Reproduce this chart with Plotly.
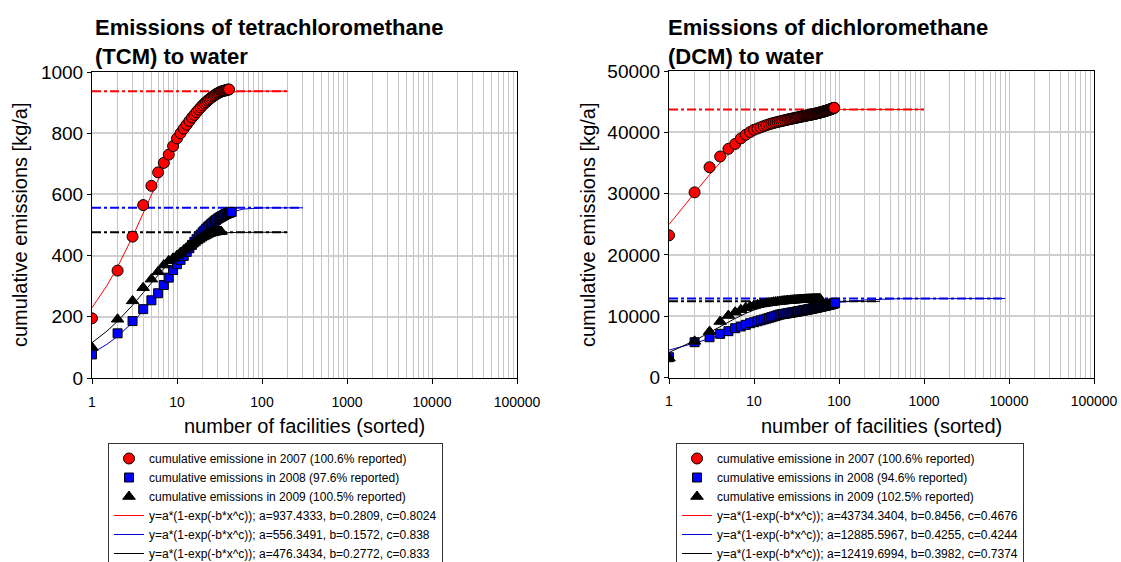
import plotly.graph_objects as go

# ---------------- data ----------------
# Left chart: tetrachloromethane (TCM) to water, cumulative emissions [kg/a]
tcm_2007 = [195, 351, 462, 565, 628, 672, 703, 730, 758, 783,
            800, 815, 828, 840, 851, 860, 869, 877, 884, 891,
            897, 902, 907, 911, 915, 919, 922, 925, 928, 930,
            932, 934, 936, 937, 938, 939, 940, 941, 942, 942.5, 943]
tcm_2008 = [77, 146, 186, 225, 254, 277, 304, 328, 353, 372,
            386, 399, 412, 424, 435, 445, 454, 462, 469, 476,
            482, 488, 493, 498, 502, 506, 510, 514, 517, 520,
            523, 525, 527, 529, 531, 533, 535, 536, 538, 539,
            540, 541, 542, 543]
tcm_2009 = [100, 192, 252, 295, 323, 347, 369, 383, 391, 400,
            410, 418, 425, 431, 437, 443, 448, 453, 457, 461,
            464, 467, 470, 472, 474, 475, 476, 477, 477.5, 478,
            478.5, 479, 479]

# fitted curves y=a*(1-exp(-b*x^c))
tcm_fit_x_2007 = [1, 1.5, 2, 3, 4, 5, 6, 8, 10, 15, 20, 30, 40, 60, 100, 200]
tcm_fit_2007 = [229.6, 302.0, 363.1, 461.7, 538.5, 600.0, 650.2, 726.1, 779.7,
                857.9, 895.5, 924.8, 933.3, 936.9, 937.4, 937.4]
tcm_fit_x_2008 = [1, 1.5, 2, 3, 4, 5, 6, 8, 10, 15, 20, 30, 40, 60, 100, 200, 300]
tcm_fit_2008 = [80.9, 110.2, 136.3, 181.4, 219.7, 252.7, 281.6, 329.7, 367.9,
                434.7, 476.0, 519.6, 538.8, 552.0, 556.0, 556.3, 556.3]
tcm_fit_x_2009 = [1, 1.5, 2, 3, 4, 5, 6, 8, 10, 15, 20, 30, 40, 60, 100, 200]
tcm_fit_2009 = [115.3, 153.4, 185.6, 237.9, 278.7, 311.2, 337.5, 376.9, 404.0,
                442.5, 459.8, 472.1, 475.2, 476.3, 476.3, 476.3]

tcm_a = [937.4333, 556.3491, 476.3434]     # asymptotes (dash-dot lines)
tcm_a_xmax = [200, 300, 200]

# Right chart: dichloromethane (DCM) to water
dcm_2007 = [23200, 30200, 34300, 36050, 37300, 38100, 39000, 39600, 40050, 40400,
            40620, 40820, 41000, 41160, 41300, 41420, 41520, 41610, 41690, 41760,
            41830, 41900, 41960, 42020, 42080, 42130, 42180, 42230, 42280, 42320,
            42360, 42400, 42440, 42480, 42520, 42555, 42590, 42625, 42660, 42690,
            42720, 42750, 42780, 42810, 42840, 42865, 42890, 42915, 42940, 42965,
            42992, 43020, 43046, 43072, 43100, 43126, 43153, 43180, 43207, 43233,
            43260, 43288, 43315, 43341, 43368, 43396, 43423, 43450, 43476, 43503,
            43530, 43558, 43585, 43611, 43638, 43666, 43693, 43720, 43746, 43773,
            43800, 43828, 43855, 43881, 43908, 43936, 43963, 43995]
dcm_2008 = [3310, 5760, 6570, 7120, 7560, 8040, 8320, 8590, 8860, 9020,
            9180, 9330, 9470, 9600, 9720, 9840, 9950, 10060, 10160, 10260,
            10310, 10355, 10400, 10445, 10490, 10530, 10570, 10610, 10645, 10680,
            10715, 10750, 10785, 10818, 10850, 10882, 10913, 10944, 10975, 11005,
            11035, 11064, 11093, 11122, 11150, 11178, 11205, 11232, 11259, 11285,
            11310, 11335, 11360, 11385, 11410, 11434, 11458, 11482, 11505, 11528,
            11551, 11574, 11596, 11618, 11640, 11662, 11683, 11704, 11725, 11746,
            11766, 11786, 11806, 11826, 11846, 11865, 11884, 11903, 11922, 11941,
            11960, 11978, 11996, 12014, 12032, 12050, 12080, 12110, 12150, 12190]
dcm_2009 = [3150, 5900, 7500, 9130, 10110, 10650, 11040, 11370, 11580, 11740,
            11870, 11970, 12050, 12120, 12180, 12235, 12285, 12330, 12370, 12405,
            12437, 12466, 12493, 12518, 12541, 12562, 12582, 12600, 12617, 12633,
            12648, 12662, 12675, 12687, 12698, 12708, 12717, 12726, 12734, 12742,
            12749, 12755, 12761, 12766, 12771, 12775, 12779, 12782, 12785, 12788,
            12790, 12792, 12794, 12795, 12796, 12797, 12798, 12799, 12800, 12801]

dcm_fit_x_2007 = [1, 1.5, 2, 3, 4, 5, 6, 8, 10, 15, 20, 30, 40, 60, 100, 200, 500, 1000]
dcm_fit_2007 = [24959, 27999, 30150, 33094, 35053, 36470, 37541, 39059, 40078,
                41556, 42321, 43043, 43354, 43593, 43704, 43733, 43734, 43734]
dcm_fit_x_2008 = [1, 1.5, 2, 3, 4, 5, 6, 8, 10, 15, 20, 30, 40, 60, 100, 200, 500,
                  1000, 3000, 9000]
dcm_fit_2008 = [4466, 5112, 5605, 6346, 6898, 7337, 7700, 8278, 8725, 9521, 10060,
                10761, 11204, 11738, 12248, 12657, 12852, 12881, 12885, 12886]
dcm_fit_x_2009 = [1, 1.5, 2, 3, 4, 5, 6, 8, 10, 15, 20, 30, 40, 60, 100, 200, 300]
dcm_fit_2009 = [4080, 5160, 6025, 7346, 8314, 9051, 9628, 10457, 11009, 11759,
                12089, 12326, 12390, 12416, 12420, 12420, 12420]

dcm_a = [43734.3404, 12885.5967, 12419.6994]
dcm_a_xmax = [1000, 9000, 300]

tcm_names = ["cumulative emissione in 2007 (100.6% reported)",
             "cumulative emissions in 2008 (97.6% reported)",
             "cumulative emissions in 2009 (100.5% reported)",
             "y=a*(1-exp(-b*x^c)); a=937.4333, b=0.2809, c=0.8024",
             "y=a*(1-exp(-b*x^c)); a=556.3491, b=0.1572, c=0.838",
             "y=a*(1-exp(-b*x^c)); a=476.3434, b=0.2772, c=0.833"]
dcm_names = ["cumulative emissione in 2007 (100.6% reported)",
             "cumulative emissions in 2008 (94.6% reported)",
             "cumulative emissions in 2009 (102.5% reported)",
             "y=a*(1-exp(-b*x^c)); a=43734.3404, b=0.8456, c=0.4676",
             "y=a*(1-exp(-b*x^c)); a=12885.5967, b=0.4255, c=0.4244",
             "y=a*(1-exp(-b*x^c)); a=12419.6994, b=0.3982, c=0.7374"]

x_tickvals = [1, 10, 100, 1000, 10000, 100000]
x_ticktext = ["1", "10", "100", "1000", "10000", "100000"]

titles = ["<b>Emissions of tetrachloromethane<br>(TCM) to water</b>",
          "<b>Emissions of dichloromethane<br>(DCM) to water</b>"]
ytitle = "cumulative emissions [kg/a]"
xtitle = "number of facilities (sorted)"

# ---------------- styles ----------------
FONT = "Liberation Sans, Arial, sans-serif"
W, H = 1121, 562
def px(v): return v / W
def py(v): return 1 - v / H

colors = ["#ff0000", "#0000ff", "#000000"]
fitcolors = ["#ff0000", "#0000cc", "#000000"]
symbols = ["circle", "square", "triangle-up"]
msizes = [11, 9, 11]

fig = go.Figure()

def add_chart(xa, ya, leg, data, fitx, fity, asym, asym_x, names):
    # asymptote dash-dot lines
    for i in range(3):
        fig.add_trace(go.Scatter(x=[1, asym_x[i]], y=[asym[i], asym[i]], mode="lines",
                                 line=dict(color=colors[i], width=2, dash="dashdot"),
                                 xaxis=xa, yaxis=ya, showlegend=False, hoverinfo="skip"))
    # fitted curves
    for i in range(3):
        fig.add_trace(go.Scatter(x=fitx[i], y=fity[i], mode="lines", name=names[3 + i],
                                 line=dict(color=fitcolors[i], width=1),
                                 xaxis=xa, yaxis=ya, legend=leg, legendrank=10 + i))
    # data markers (drawn on top)
    for i in range(3):
        vals = data[i]
        fig.add_trace(go.Scatter(x=list(range(1, len(vals) + 1)), y=vals, mode="markers",
                                 name=names[i],
                                 marker=dict(symbol=symbols[i], size=msizes[i], color=colors[i],
                                             line=dict(color="black", width=1)),
                                 xaxis=xa, yaxis=ya, legend=leg, legendrank=1 + i))

add_chart("x", "y", "legend", [tcm_2007, tcm_2008, tcm_2009],
          [tcm_fit_x_2007, tcm_fit_x_2008, tcm_fit_x_2009],
          [tcm_fit_2007, tcm_fit_2008, tcm_fit_2009], tcm_a, tcm_a_xmax, tcm_names)
add_chart("x2", "y2", "legend2", [dcm_2007, dcm_2008, dcm_2009],
          [dcm_fit_x_2007, dcm_fit_x_2008, dcm_fit_x_2009],
          [dcm_fit_2007, dcm_fit_2008, dcm_fit_2009], dcm_a, dcm_a_xmax, dcm_names)

minor_vals = [m * 10 ** k for k in range(5) for m in range(2, 10)]

def xaxis_cfg(d0, d1, anchor):
    return dict(type="log", range=[0, 5], domain=[px(d0), px(d1)], anchor=anchor,
                tickmode="array", tickvals=x_tickvals, ticktext=x_ticktext,
                tickfont=dict(size=14, family=FONT, color="black"),
                ticks="outside", ticklen=5, tickcolor="black", ticklabelstandoff=6,
                showgrid=True, gridcolor="#c6c6c6", gridwidth=1,
                minor=dict(tickmode="array", tickvals=minor_vals, showgrid=True,
                           gridcolor="#c6c6c6", gridwidth=1, ticks=""),
                showline=True, linecolor="black", linewidth=1, mirror=True,
                zeroline=False, fixedrange=True, automargin=False)

def yaxis_cfg(top, bottom, rng, dtick, anchor):
    return dict(range=rng, dtick=dtick, domain=[py(bottom), py(top)], anchor=anchor,
                tickformat="d",
                tickfont=dict(size=19, family=FONT, color="black"),
                ticks="outside", ticklen=4, tickcolor="black",
                showgrid=True, gridcolor="#cfcfcf", gridwidth=1.5,
                showline=True, linecolor="black", linewidth=1, mirror=True,
                zeroline=False, fixedrange=True, automargin=False)

legend_common = dict(xanchor="left", yanchor="top", bgcolor="white",
                     bordercolor="#333333", borderwidth=1,
                     font=dict(size=12, family=FONT, color="black"),
                     tracegroupgap=0, traceorder="normal")

fig.update_layout(
    width=W, height=H, margin=dict(l=0, r=0, t=0, b=0, autoexpand=False),
    paper_bgcolor="white", plot_bgcolor="white",
    font=dict(family=FONT, color="black"),
    xaxis=xaxis_cfg(92, 517, "y"),
    yaxis=yaxis_cfg(72, 378, [0, 1000], 200, "x"),
    xaxis2=xaxis_cfg(669, 1094, "y2"),
    yaxis2=yaxis_cfg(71, 377.5, [0, 50000], 10000, "x2"),
    legend=dict(x=px(108), y=py(443), **legend_common),
    legend2=dict(x=px(676), y=py(443), **legend_common),
    annotations=[
        dict(text=titles[0], x=px(93), y=py(13), xref="paper", yref="paper",
             xanchor="left", yanchor="top", align="left", showarrow=False,
             font=dict(size=22, family=FONT, color="black")),
        dict(text=titles[1], x=px(666), y=py(13), xref="paper", yref="paper",
             xanchor="left", yanchor="top", align="left", showarrow=False,
             font=dict(size=22, family=FONT, color="black")),
        dict(text=ytitle, x=px(20), y=py(225), xref="paper", yref="paper",
             textangle=-90, showarrow=False, xanchor="center", yanchor="middle",
             font=dict(size=20, family=FONT, color="black")),
        dict(text=ytitle, x=px(588), y=py(225), xref="paper", yref="paper",
             textangle=-90, showarrow=False, xanchor="center", yanchor="middle",
             font=dict(size=20, family=FONT, color="black")),
        dict(text=xtitle, x=px(304.5), y=py(426), xref="paper", yref="paper",
             showarrow=False, xanchor="center", yanchor="middle",
             font=dict(size=20, family=FONT, color="black")),
        dict(text=xtitle, x=px(881.5), y=py(426), xref="paper", yref="paper",
             showarrow=False, xanchor="center", yanchor="middle",
             font=dict(size=20, family=FONT, color="black")),
    ],
)

fig.write_html("out.html")
